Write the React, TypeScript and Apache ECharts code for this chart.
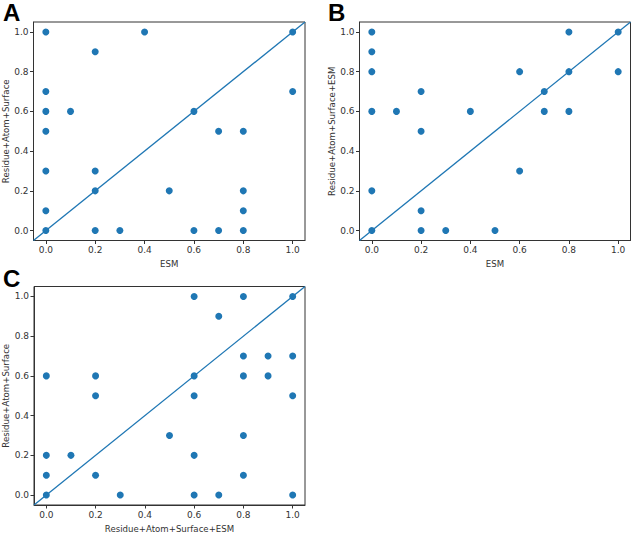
import React, { useEffect, useRef } from "react";
import * as echarts from "echarts";

const tickValues = [0, 0.2, 0.4, 0.6, 0.8, 1.0];
const axisMin = -0.05;
const axisMax = 1.05;
const diagonal = [[-0.05, -0.05], [1.05, 1.05]];

const panelA: number[][] = [
  [0, 1.0], [0.4, 1.0], [1.0, 1.0], [0.2, 0.9], [0, 0.7], [1.0, 0.7],
  [0, 0.6], [0.1, 0.6], [0.6, 0.6], [0, 0.5], [0.7, 0.5], [0.8, 0.5],
  [0, 0.3], [0.2, 0.3], [0.2, 0.2], [0.5, 0.2], [0.8, 0.2], [0, 0.1],
  [0.8, 0.1], [0, 0], [0.2, 0], [0.3, 0], [0.6, 0], [0.7, 0], [0.8, 0],
];
const panelB: number[][] = [
  [0, 1], [0.8, 1], [1, 1], [0, 0.9], [0, 0.8], [0.6, 0.8], [0.8, 0.8],
  [1, 0.8], [0.2, 0.7], [0.7, 0.7], [0, 0.6], [0.1, 0.6], [0.4, 0.6],
  [0.7, 0.6], [0.8, 0.6], [0.2, 0.5], [0.6, 0.3], [0, 0.2], [0.2, 0.1],
  [0, 0], [0.2, 0], [0.3, 0], [0.5, 0],
];
const panelC: number[][] = [
  [0.6, 1], [0.8, 1], [1, 1], [0.7, 0.9], [0.8, 0.7], [0.9, 0.7], [1, 0.7],
  [0, 0.6], [0.2, 0.6], [0.6, 0.6], [0.8, 0.6], [0.9, 0.6], [0.2, 0.5],
  [0.6, 0.5], [1, 0.5], [0.5, 0.3], [0.8, 0.3], [0, 0.2], [0.1, 0.2],
  [0.6, 0.2], [0, 0.1], [0.2, 0.1], [0.8, 0.1], [0, 0], [0.3, 0], [0.6, 0],
  [0.7, 0], [1, 0],
];

const panelLetters = ["A", "B", "C"];
const xNames = ["ESM", "ESM", "Residue+Atom+Surface+ESM"];
const yNames = ["Residue+Atom+Surface", "Residue+Atom+Surface+ESM", "Residue+Atom+Surface"];

const COLOR = "#1f77b4";
const FONT = "DejaVu Sans";

export default function App() {
  const ref = useRef<HTMLDivElement>(null);
  useEffect(() => {
    if (!ref.current) return;
    const chart = echarts.init(ref.current, null, { renderer: "svg" });
    const grids = [
      { left: 33.5, top: 22, width: 271.5, height: 218.5 },
      { left: 359.5, top: 22, width: 271, height: 218.5 },
      { left: 34, top: 286.5, width: 271, height: 218.5 },
    ];
    const letterPos = [
      { left: 3, top: 0 },
      { left: 328, top: 0 },
      { left: 3, top: 266 },
    ];
    const datas = [panelA, panelB, panelC];
    const axisCommon = (i: number) => ({
      gridIndex: i,
      type: "value" as const,
      min: axisMin,
      max: axisMax,
      splitLine: { show: false },
      axisLine: { show: true, onZero: false, lineStyle: { color: "#333", width: 1 } },
      axisTick: { show: true, length: 3.5, customValues: tickValues, lineStyle: { color: "#333" } },
      axisLabel: {
        customValues: tickValues,
        color: "#333",
        fontFamily: FONT,
        fontSize: 9,
        formatter: (v: number) => v.toFixed(1),
      },
      nameLocation: "middle" as const,
      nameTextStyle: { color: "#333", fontFamily: FONT, fontSize: 8.6 },
    });
    const option: any = {
      animation: false,
      backgroundColor: "#fff",
      grid: grids.map((g) => ({ ...g, show: true, borderColor: "#333", borderWidth: 1, backgroundColor: "transparent" })),
      xAxis: [0, 1, 2].map((i) => {
        const a: any = axisCommon(i);
        a.name = xNames[i];
        a.nameGap = 19;
        a.axisLabel.margin = 5;
        return a;
      }),
      yAxis: [0, 1, 2].map((i) => {
        const a: any = axisCommon(i);
        a.name = yNames[i];
        a.nameGap = 23;
        a.axisLabel.margin = 5;
        return a;
      }),
      series: [
        ...[0, 1, 2].map((i) => ({
          type: "line",
          xAxisIndex: i,
          yAxisIndex: i,
          data: diagonal,
          showSymbol: false,
          symbol: "none",
          lineStyle: { color: COLOR, width: 1.3 },
          z: 1,
          silent: true,
        })),
        ...[0, 1, 2].map((i) => ({
          type: "scatter",
          xAxisIndex: i,
          yAxisIndex: i,
          data: datas[i],
          symbolSize: 7,
          itemStyle: { color: COLOR, opacity: 1 },
          z: 2,
        })),
      ],
      graphic: [0, 1, 2].map((i) => ({
        type: "text",
        left: letterPos[i].left,
        top: letterPos[i].top,
        style: {
          text: panelLetters[i],
          font: "bold 24px 'Liberation Sans'",
          fill: "#000",
        },
      })),
    };
    chart.setOption(option);
    return () => chart.dispose();
  }, []);
  return (
    <div
      ref={ref}
      style={{ position: "fixed", left: 0, top: 0, width: 633, height: 535, background: "#fff" }}
    />
  );
}
